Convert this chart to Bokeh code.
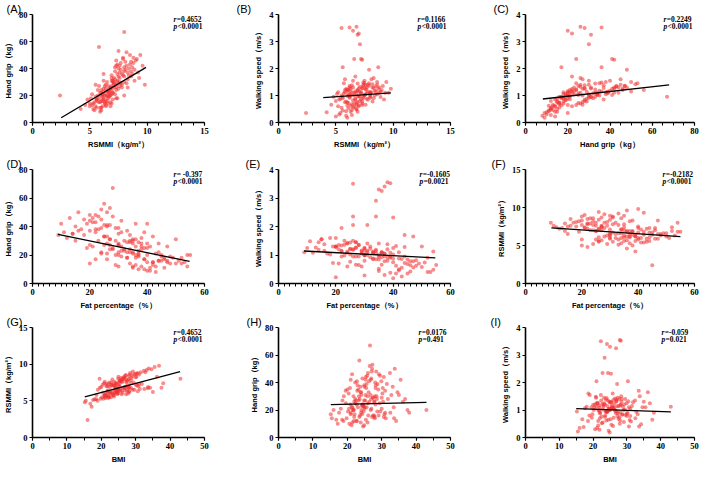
from bokeh.plotting import figure
from bokeh.layouts import gridplot
from bokeh.models import Range1d, FixedTicker, Label, ColumnDataSource
from bokeh.embed import file_html
from bokeh.resources import INLINE

# ---- subject-level data (estimated from the scatter clouds) ----
rsmmi = [7.8, 8.2, 7.4, 8.6, 7.1, 8.0, 7.6, 9.1, 7.3, 8.4,
         7.9, 8.8, 7.0, 8.3, 7.7, 9.4, 7.5, 8.1, 6.9, 8.5,
         7.2, 8.7, 7.6, 8.0, 9.0, 7.3, 8.2, 7.8, 8.9, 7.5,
         8.0, 7.0, 8.6, 7.7, 9.6, 7.4, 8.3, 7.9, 6.8, 8.4,
         5.8, 8.1, 7.2, 9.8, 7.6, 8.5, 7.1, 9.2, 7.8, 8.8,
         7.4, 8.2, 6.9, 8.0, 9.3, 7.6, 8.6, 7.3, 8.9, 7.7,
         6.2, 5.8, 6.6, 5.5, 6.9, 6.0, 6.4, 5.3, 7.1, 6.1,
         5.9, 6.7, 5.6, 6.3, 7.3, 5.2, 6.5, 6.0, 6.8, 5.7,
         6.2, 5.4, 6.9, 6.1, 7.4, 5.8, 6.6, 6.3, 5.0, 6.7,
         6.0, 7.0, 5.5, 6.4, 6.8, 5.9, 6.5, 5.3, 7.2, 6.2,
         5.7, 6.6, 6.1, 7.5, 5.6, 6.3, 6.9, 5.1, 6.4, 6.0,
         4.6, 6.7, 5.9, 6.5, 7.1, 5.4, 6.2, 4.2, 6.8, 6.1,
         6.6, 5.9, 7.0, 6.3, 5.2, 7.3, 6.4, 5.6, 6.9, 6.0,
         6.8, 5.5, 7.0, 6.5, 6.9, 6.2, 7.1, 6.6, 7.3, 5.6,
         8.0, 7.6, 6.8, 8.0, 6.2, 5.0, 7.4, 4.8, 2.4, 8.3,
         6.5, 7.9, 6.0, 8.7, 6.7, 7.5, 5.8, 6.4, 7.2, 6.3]

grip = [36, 42, 31, 45, 28, 38, 33, 47, 26, 40,
        35, 44, 30, 37, 29, 50, 34, 39, 27, 43,
        32, 41, 37, 30, 46, 24, 52, 28, 39, 40,
        67, 22, 34, 44, 42, 36, 32, 47, 25, 35,
        56, 45, 38, 28, 30, 50, 33, 37, 26, 48,
        43, 29, 35, 41, 33, 27, 38, 46, 31, 39,
        18, 15, 22, 12, 24, 20, 16, 14, 26, 19,
        11, 23, 17, 21, 28, 13, 19, 24, 15, 20,
        25, 9, 21, 16, 30, 18, 14, 27, 12, 20,
        22, 17, 19, 13, 26, 15, 23, 10, 21, 17,
        24, 18, 12, 25, 16, 20, 14, 18, 28, 11,
        13, 19, 22, 16, 29, 15, 23, 10, 12, 21,
        27, 8, 31, 14, 21, 18, 25, 11, 33, 16,
        26, 28, 22, 20, 31, 36, 30, 24, 42, 17,
        34, 42, 20, 20, 31, 14, 18, 17, 20, 26,
        30, 48, 9, 36, 22, 53, 27, 12, 41, 15]

speed = [1.15, 1.30, 0.95, 1.40, 0.80, 1.05, 1.22, 1.35, 0.70, 1.18,
         1.45, 1.10, 0.98, 1.28, 0.88, 1.50, 1.02, 1.12, 0.76, 1.33,
         1.08, 1.25, 1.38, 0.92, 1.20, 0.65, 1.42, 0.84, 1.15, 1.55,
         0.95, 0.60, 1.05, 1.30, 1.10, 1.48, 0.90, 1.36, 0.72, 1.00,
         1.20, 1.60, 1.12, 1.25, 1.05, 1.15, 0.95, 0.85, 1.40, 1.30,
         1.35, 0.78, 1.18, 1.02, 1.10, 0.66, 1.50, 1.26, 0.94, 1.08,
         0.92, 0.75, 1.10, 0.55, 1.20, 0.98, 0.68, 0.85, 1.32, 1.05,
         0.42, 1.15, 0.90, 1.00, 1.28, 0.60, 0.82, 1.22, 0.50, 1.08,
         1.35, 0.35, 0.96, 0.72, 1.40, 1.12, 0.58, 1.25, 0.80, 0.88,
         1.18, 0.64, 1.00, 0.46, 1.10, 0.78, 1.30, 0.30, 0.86, 0.94,
         1.45, 0.70, 0.52, 1.02, 0.95, 1.16, 0.40, 1.06, 1.38, 0.62,
         0.66, 0.84, 1.24, 0.56, 1.14, 0.88, 1.04, 0.38, 0.48, 1.20,
         1.00, 0.25, 1.26, 0.62, 1.12, 0.78, 1.08, 0.44, 1.44, 0.74,
         3.55, 3.50, 3.30, 3.40, 3.25, 3.52, 2.90, 2.35, 2.32, 2.05,
         1.10, 1.25, 0.65, 1.12, 1.30, 0.22, 0.90, 0.95, 0.35, 1.65,
         1.55, 1.95, 0.18, 2.05, 1.70, 1.45, 1.60, 0.28, 2.35, 0.40]

fat = [22, 19, 27, 24, 30, 17, 25, 28, 21, 26,
       14, 31, 23, 20, 33, 26, 18, 29, 25, 22,
       12, 27, 16, 32, 21, 28, 24, 35, 30, 15,
       28, 24, 34, 20, 36, 11, 38, 23, 19, 30,
       25, 18, 22, 40, 29, 16, 26, 33, 31, 20,
       21, 37, 14, 25, 42, 27, 23, 13, 35, 24,
       36, 40, 33, 43, 38, 30, 45, 34, 41, 37,
       46, 31, 39, 35, 44, 29, 48, 32, 42, 36,
       28, 41, 37, 44, 35, 33, 50, 30, 38, 40,
       34, 46, 31, 42, 36, 47, 32, 37, 43, 39,
       27, 49, 35, 40, 44, 29, 52, 33, 38, 41,
       36, 45, 30, 47, 34, 42, 37, 39, 54, 26,
       30, 43, 27, 48, 24, 46, 39, 35, 25, 51,
       38, 26, 35, 37, 36, 39, 34, 34, 40, 26,
       9, 10, 55, 54, 50, 20, 52, 22, 45, 47,
       15, 22, 40, 31, 44, 27, 20, 30, 26, 53]

bmi = [25.5, 26.8, 24.1, 29.5, 23.6, 24.9, 26.2, 32.4, 22.0, 28.1,
       23.2, 30.6, 21.8, 25.0, 27.4, 33.8, 22.9, 28.8, 22.5, 27.0,
       20.4, 29.9, 23.8, 28.0, 29.2, 24.5, 26.5, 28.6, 31.5, 22.3,
       26.6, 21.5, 31.0, 25.4, 35.5, 20.8, 30.2, 26.0, 19.6, 29.0,
       23.5, 25.8, 23.0, 36.8, 25.9, 27.2, 23.9, 33.2, 27.8, 28.4,
       24.4, 30.0, 20.0, 26.3, 34.6, 25.2, 28.3, 21.4, 32.8, 25.6,
       24.0, 23.5, 25.6, 22.8, 28.2, 21.6, 27.5, 19.8, 30.4, 24.7,
       25.9, 24.2, 22.1, 25.0, 31.8, 18.5, 29.6, 22.7, 27.9, 21.9,
       22.4, 21.2, 27.0, 26.1, 28.5, 21.0, 31.2, 23.3, 18.9, 26.8,
       23.1, 30.8, 20.2, 25.4, 26.4, 27.2, 24.8, 20.6, 30.0, 24.3,
       20.9, 32.5, 22.6, 29.4, 23.7, 21.8, 33.6, 17.6, 26.9, 23.9,
       16.8, 28.7, 21.3, 29.1, 27.6, 22.0, 24.6, 17.2, 34.2, 20.5,
       24.9, 24.6, 25.3, 28.0, 18.1, 31.0, 26.0, 21.5, 24.0, 27.8,
       27.9, 22.3, 25.0, 24.1, 26.8, 28.2, 23.4, 24.4, 25.3, 21.0,
       19.5, 21.0, 37.5, 43.0, 35.0, 15.5, 38.0, 15.2, 16.0, 36.2,
       19.0, 27.1, 24.9, 30.3, 33.5, 27.3, 18.6, 21.9, 22.8, 30.6]

# ---- panel definitions ----
panel_letters = ["(A)", "(B)", "(C)", "(D)", "(E)", "(F)", "(G)", "(H)", "(I)"]
panel_x = ["rsmmi", "rsmmi", "grip", "fat", "fat", "fat", "bmi", "bmi", "bmi"]
panel_y = ["grip", "speed", "speed", "grip", "speed", "rsmmi", "rsmmi", "grip", "speed"]
x_labels = ["RSMMI（kg/m²）", "RSMMI（kg/m²）", "Hand grip（kg）",
            "Fat percentage（%）", "Fat percentage（%）", "Fat percentage（%）",
            "BMI", "BMI", "BMI"]
y_labels = ["Hand grip（kg）", "Walking speed（m/s）", "Walking speed（m/s）",
            "Hand grip（kg）", "Walking speed（m/s）", "RSMMI（kg/m²）",
            "RSMMI（kg/m²）", "Hand grip（kg）", "Walking speed（m/s）"]
x_max = [15, 15, 80, 60, 60, 60, 50, 50, 50]
y_max = [80, 4, 4, 80, 4, 15, 15, 80, 4]
x_major = [5, 5, 20, 20, 20, 20, 10, 10, 10]
x_minor = [1, 1, 5, 2, 2, 2, 5, 5, 5]
y_major = [20, 1, 1, 20, 1, 5, 5, 20, 1]
r_text = ["=0.4652", "=0.1166", "=0.2249", "= -0.397", "=-0.1605",
          "=-0.2182", "=0.4652", "=0.0176", "=-0.059"]
p_text = ["<0.0001", "<0.0001", "<0.0001", "<0.0001", "=0.0021",
          "<0.0001", "<0.0001", "=0.491", "=0.021"]
fit_x0 = [2.5, 3.9, 8.2, 8.9, 8.9, 9.2, 15.2, 15.2, 15.0]
fit_x1 = [9.9, 9.8, 68.0, 54.8, 54.7, 55.0, 42.9, 43.0, 43.0]
fit_y0 = [3.5, 0.92, 0.87, 34.5, 1.14, 7.32, 5.54, 23.9, 1.05]
fit_y1 = [40.8, 1.10, 1.39, 15.5, 0.90, 6.18, 8.98, 25.5, 0.93]

source = ColumnDataSource(data=dict(rsmmi=rsmmi, grip=grip, speed=speed, fat=fat, bmi=bmi))

# ---- layout constants ----
col_fw = [172, 172, 169]
col_l = [26, 44, 61]
col_r = [30, 14, 5]
row_fh = [108, 114, 110]
row_t = [14, 14, 14]
row_b = [33, 30, 27]
letter_dx = [-26, -42, -32, -26, -33, -34, -26, -32, -35]
stat_dx = [31, 33, 31, 31, 31, 32, 31, 32, 33]

SERIF = "Liberation Serif"
SANS = "Liberation Sans"

rows = []
for ri in range(3):
    row = []
    for ci in range(3):
        k = ri * 3 + ci
        fw, fh = col_fw[ci], row_fh[ri]
        p = figure(frame_width=fw, frame_height=fh,
                   min_border_left=col_l[ci], min_border_right=col_r[ci],
                   min_border_top=row_t[ri], min_border_bottom=row_b[ri],
                   x_range=Range1d(0, x_max[k]), y_range=Range1d(0, y_max[k]),
                   output_backend="svg", toolbar_location=None)
        p.outline_line_color = None
        p.xgrid.visible = False
        p.ygrid.visible = False
        p.background_fill_color = "white"
        p.border_fill_color = "white"

        # panel letter as title
        p.title.text = panel_letters[k]
        p.title.text_font = SANS
        p.title.text_font_style = "normal"
        p.title.text_font_size = "11px"
        p.title.text_color = "black"
        p.title.align = "left"
        p.title.offset = letter_dx[k]
        p.title.standoff = 0

        xt = list(range(0, x_max[k] + 1, x_major[k]))
        xm = list(range(0, x_max[k] + 1, x_minor[k]))
        yt = list(range(0, y_max[k] + 1, y_major[k]))
        p.xaxis.ticker = FixedTicker(ticks=xt, minor_ticks=xm)
        p.yaxis.ticker = FixedTicker(ticks=yt, minor_ticks=[])

        for ax in (p.xaxis, p.yaxis):
            ax.axis_line_width = 1.6
            ax.axis_line_color = "black"
            ax.major_tick_line_width = 1.2
            ax.minor_tick_line_width = 1.0
            ax.major_tick_in = 0
            ax.major_tick_out = 3
            ax.minor_tick_in = 0
            ax.minor_tick_out = 3
            ax.major_label_text_font = SERIF
            ax.major_label_text_font_style = "bold"
            ax.major_label_text_font_size = "8.5px"
            ax.major_label_text_color = "black"
            ax.major_label_standoff = 2
            ax.axis_label_text_font = SANS
            ax.axis_label_text_font_style = "bold"
            ax.axis_label_text_font_size = "7.5px"
            ax.axis_label_text_color = "black"
            ax.axis_label_standoff = 3
        p.xaxis.axis_label = x_labels[k]
        p.yaxis.axis_label = y_labels[k]

        p.scatter(x=panel_x[k], y=panel_y[k], source=source, size=4,
                  fill_color="#f03030", fill_alpha=0.55, line_color=None)
        p.line(x=[fit_x0[k], fit_x1[k]], y=[fit_y0[k], fit_y1[k]],
               line_color="black", line_width=1.3)

        # statistics
        sx = fw - stat_dx[k]
        for j, (sym, txt, adv) in enumerate((("r", r_text[k], 3.2), ("p", p_text[k], 4.0))):
            yy = fh - 5 - 7 * j
            p.add_layout(Label(x=sx, y=yy, x_units="screen", y_units="screen", text=sym,
                               text_font=SERIF, text_font_style="bold italic",
                               text_font_size="7.5px", text_color="black",
                               text_baseline="middle", text_align="left"))
            p.add_layout(Label(x=sx + adv, y=yy, x_units="screen", y_units="screen", text=txt,
                               text_font=SERIF, text_font_style="bold",
                               text_font_size="7.5px", text_color="black",
                               text_baseline="middle", text_align="left"))
        row.append(p)
    rows.append(row)

grid = gridplot(rows, toolbar_location=None)
open("out.html", "w").write(file_html(grid, INLINE, title="Correlation scatter plots"))
